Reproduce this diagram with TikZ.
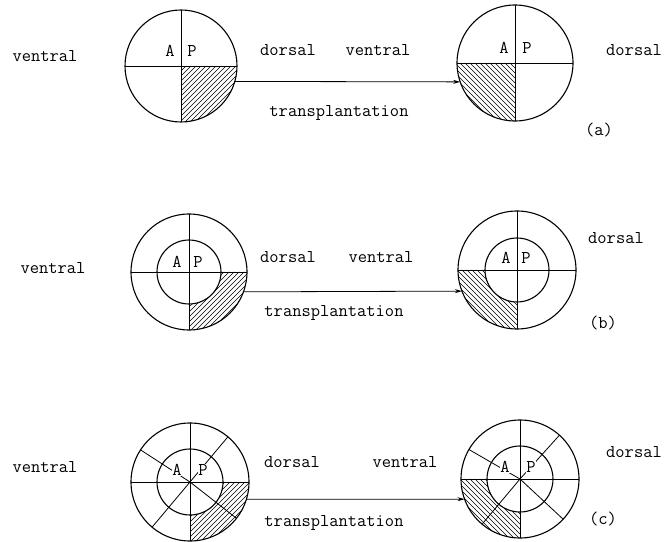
\documentclass[tikz,border=0pt]{standalone}
\usepackage{fontspec}
\usetikzlibrary{arrows.meta}
\begin{document}
\begin{tikzpicture}[x=1pt,y=1pt,
  font=\ttfamily\fontsize{18}{20}\selectfont,
  circ/.style={draw, circle, line width=1.1pt, inner sep=0pt, outer sep=0pt},
  div/.style={line width=0.8pt},
  hatch/.style={line width=0.55pt},
  lbl/.style={inner sep=0.5pt, fill=white},
  txt/.style={inner sep=0pt},
  arr/.style={-{Stealth[length=7pt,width=4pt]}, line width=0.8pt}]
\useasboundingbox (0,0) rectangle (664,541);

% ---------------- row (a) ----------------
\begin{scope}[shift={(181,475)}]
  \clip (0,0) -- (56,0) arc (0:-90:56) -- cycle;
  \foreach \k in {-120,-115,...,120} \draw[hatch] (\k-60,-60) -- (\k+60,60);
\end{scope}
\node[circ, minimum size=112pt] (aL) at (181,475) {};
\draw[div] (aL.west) -- (aL.east) (aL.north) -- (aL.south);
\node[lbl] (aLA) at (170,490) {A};
\node[lbl] (aLP) at (192,490) {P};

\begin{scope}[shift={(515,478)}]
  \clip (0,0) -- (-58,0) arc (180:270:58) -- cycle;
  \foreach \k in {-120,-115,...,120} \draw[hatch] (\k+60,-60) -- (\k-60,60);
\end{scope}
\node[circ, minimum size=116pt] (aR) at (515,478) {};
\draw[div] (aR.west) -- (aR.east) (aR.north) -- (aR.south);
\node[lbl] (aRA) at (504,493) {A};
\node[lbl] (aRP) at (527,493) {P};

\draw[arr] (aL.-16.6) -- (aR.199.1);
\node[txt] (aT1) at (45,485) {ventral};
\node[txt] (aT2) at (288,491) {dorsal};
\node[txt] (aT3) at (378,491) {ventral};
\node[txt] (aT4) at (634,491) {dorsal};
\node[txt] (aT5) at (339,428) {transplantation};
\node[txt] (aT6) at (599,411) {(a)};

% ---------------- row (b) ----------------
\begin{scope}[shift={(189,269)}]
  \clip (32,0) -- (58,0) arc (0:-90:58) -- (0,-32) arc (-90:0:32) -- cycle;
  \foreach \k in {-120,-115,...,120} \draw[hatch] (\k-60,-60) -- (\k+60,60);
\end{scope}
\node[circ, minimum size=116pt] (bL) at (189,269) {};
\node[circ, minimum size=64pt] (bLi) at (189,269) {};
\draw[div] (bL.west) -- (bL.east) (bL.north) -- (bL.south);
\node[lbl] (bLA) at (177,279) {A};
\node[lbl] (bLP) at (198,279) {P};

\begin{scope}[shift={(517,271)}]
  \clip (-32,0) -- (-59,0) arc (180:270:59) -- (0,-32) arc (270:180:32) -- cycle;
  \foreach \k in {-120,-115,...,120} \draw[hatch] (\k+60,-60) -- (\k-60,60);
\end{scope}
\node[circ, minimum size=118pt] (bR) at (517,271) {};
\node[circ, minimum size=64pt] (bRi) at (517,271) {};
\draw[div] (bR.west) -- (bR.east) (bR.north) -- (bR.south);
\node[lbl] (bRA) at (506,283) {A};
\node[lbl] (bRP) at (526,283) {P};

\draw[arr] (bL.-20.2) -- (bR.201.9);
\node[txt] (bT1) at (53,273) {ventral};
\node[txt] (bT2) at (288,284) {dorsal};
\node[txt] (bT3) at (381,284) {ventral};
\node[txt] (bT4) at (616,303) {dorsal};
\node[txt] (bT5) at (334,228) {transplantation};
\node[txt] (bT6) at (603,218) {(b)};

% ---------------- row (c) ----------------
\begin{scope}[shift={(190,59)}]
  \clip (33,0) -- (59,0) arc (0:-90:59) -- (0,-33) arc (-90:0:33) -- cycle;
  \foreach \k in {-120,-115,...,120} \draw[hatch] (\k-60,-60) -- (\k+60,60);
\end{scope}
\node[circ, minimum size=118pt] (cL) at (190,59) {};
\node[circ, minimum size=66pt] (cLi) at (190,59) {};
\draw[div] (cL.west) -- (cL.east) (cL.north) -- (cL.south);
\draw[div] (cL.center) -- (cL.147) (cL.center) -- (cL.50)
           (cL.center) -- (cL.230) (cL.center) -- (cL.322);
\node[lbl] (cLA) at (177,71) {A};
\node[lbl] (cLP) at (203,71) {P};

\begin{scope}[shift={(520,62)}]
  \clip (-33,0) -- (-59,0) arc (180:270:59) -- (0,-33) arc (270:180:33) -- cycle;
  \foreach \k in {-120,-115,...,120} \draw[hatch] (\k+60,-60) -- (\k-60,60);
\end{scope}
\node[circ, minimum size=118pt] (cR) at (520,62) {};
\node[circ, minimum size=66pt] (cRi) at (520,62) {};
\draw[div] (cR.west) -- (cR.east) (cR.north) -- (cR.south);
\draw[div] (cR.center) -- (cR.150) (cR.center) -- (cR.48)
           (cR.center) -- (cR.230) (cR.center) -- (cR.317);
\node[lbl] (cRA) at (505,74) {A};
\node[lbl] (cRP) at (531,74) {P};

\draw[arr] (cL.-17.8) -- (cR.200.9);
\node[txt] (cT1) at (45,74) {ventral};
\node[txt] (cT2) at (292,79) {dorsal};
\node[txt] (cT3) at (405,79) {ventral};
\node[txt] (cT4) at (634,89) {dorsal};
\node[txt] (cT5) at (334,18) {transplantation};
\node[txt] (cT6) at (603,22) {(c)};
\end{tikzpicture}
\end{document}
